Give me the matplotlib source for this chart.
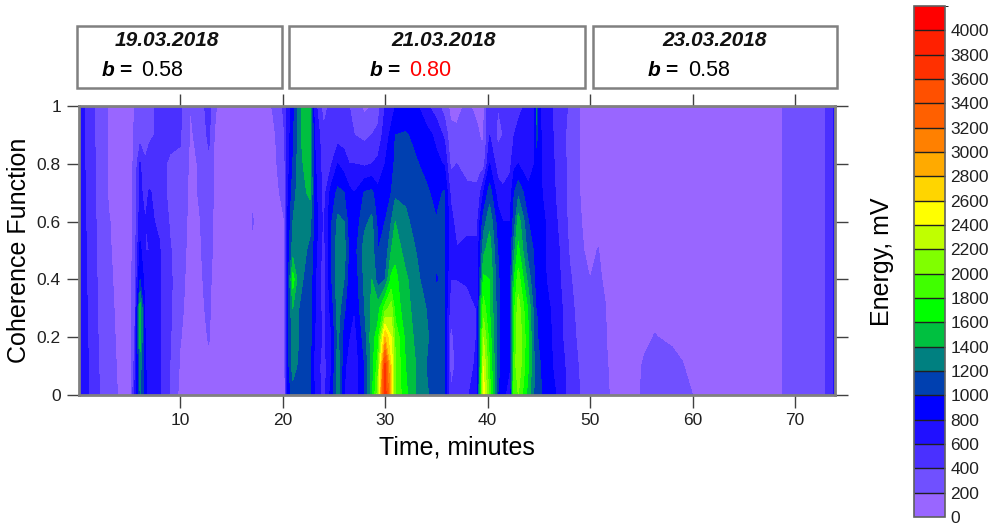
import numpy as np
import matplotlib
matplotlib.use('Agg')
import matplotlib.pyplot as plt
from matplotlib.cm import ScalarMappable
from matplotlib.colors import BoundaryNorm, ListedColormap
from matplotlib.patches import Rectangle

plt.rcParams['font.family'] = ['Liberation Sans', 'DejaVu Sans']

coherence = [0, 0.1, 0.2, 0.3, 0.4, 0.5, 0.6, 0.7, 0.8, 0.9, 1.0]

# energy: time (min) -> values from coherence 0 up to 1
columns = {
    0.1: [750, 750, 750, 750, 750, 750, 750, 750, 750, 750, 750],
    1: [620, 610, 600, 590, 580, 570, 560, 550, 530, 510, 500],
    2: [420, 410, 400, 390, 380, 370, 360, 360, 350, 350, 350],
    3: [280, 270, 260, 250, 230, 220, 210, 190, 180, 180, 180],
    4: [190, 180, 170, 160, 160, 150, 150, 150, 150, 150, 150],
    5.2: [150, 150, 150, 150, 150, 150, 150, 150, 150, 150, 150],
    5.6: [700, 500, 400, 380, 350, 320, 300, 280, 250, 220, 210],
    6.1: [1200, 1300, 1500, 1500, 1000, 850, 700, 650, 620, 300, 300],
    6.6: [850, 820, 780, 750, 700, 600, 600, 520, 420, 320, 320],
    7: [720, 700, 680, 650, 630, 600, 620, 620, 450, 380, 380],
    8: [620, 620, 620, 620, 620, 610, 580, 500, 440, 420, 420],
    9: [380, 400, 420, 440, 440, 420, 380, 350, 380, 440, 440],
    10: [150, 180, 210, 240, 260, 280, 300, 330, 370, 420, 430],
    11: [100, 110, 120, 120, 130, 140, 150, 150, 160, 180, 200],
    12: [100, 120, 150, 170, 180, 190, 200, 220, 220, 250, 350],
    12.8: [100, 170, 210, 230, 250, 280, 300, 340, 350, 450, 450],
    13.5: [100, 100, 100, 100, 100, 120, 120, 120, 120, 120, 220],
    14: [100, 100, 100, 100, 100, 100, 100, 100, 100, 100, 100],
    17: [100, 100, 100, 100, 100, 100, 100, 100, 100, 100, 100],
    17.1: [100, 100, 100, 100, 100, 100, 240, 100, 100, 100, 100],
    17.2: [100, 100, 100, 100, 100, 100, 100, 100, 100, 100, 100],
    19: [100, 100, 100, 100, 100, 100, 100, 100, 100, 120, 210],
    19.9: [100, 100, 100, 100, 100, 100, 150, 230, 300, 350, 380],
    20.2: [100, 100, 100, 120, 120, 150, 200, 300, 350, 400, 450],
    20.5: [850, 900, 900, 900, 880, 850, 800, 760, 700, 680, 650],
    21: [1100, 1300, 1300, 1400, 1700, 1300, 1200, 1100, 1000, 950, 900],
    21.6: [1050, 1150, 1200, 1200, 1250, 1300, 1300, 1300, 1300, 1300, 1300],
    22: [1050, 1100, 1150, 1150, 1200, 1250, 1300, 1350, 1400, 1500, 1500],
    22.7: [1020, 1050, 1050, 1100, 1100, 1150, 1250, 1450, 1450, 1500, 1500],
    23.1: [800, 750, 800, 850, 850, 900, 950, 900, 850, 800, 700],
    24: [500, 500, 550, 500, 480, 500, 550, 500, 500, 450, 300],
    24.8: [900, 800, 800, 900, 1000, 1000, 1000, 900, 600, 450, 480],
    25.4: [1300, 1300, 1250, 1300, 1350, 1350, 1250, 1050, 800, 500, 500],
    26: [800, 850, 900, 1050, 1200, 1300, 1200, 1000, 700, 500, 400],
    26.5: [700, 700, 800, 850, 900, 950, 900, 850, 600, 450, 400],
    27: [650, 650, 700, 800, 850, 900, 850, 800, 600, 400, 300],
    28: [1000, 1000, 1100, 1200, 1250, 1300, 1150, 1020, 560, 350, 150],
    28.7: [1500, 1500, 1500, 1450, 1400, 1300, 1250, 1050, 600, 400, 200],
    29.3: [2100, 1900, 1700, 1500, 1100, 1000, 950, 850, 650, 450, 300],
    30: [3800, 3700, 2800, 1900, 1200, 1050, 1000, 850, 800, 700, 600],
    30.6: [2600, 2600, 2400, 2100, 1650, 1400, 1200, 1000, 900, 850, 700],
    31: [2000, 2000, 1950, 1700, 1650, 1550, 1400, 1150, 1050, 1000, 800],
    32: [1650, 1600, 1550, 1500, 1450, 1300, 1250, 1150, 1100, 1020, 850],
    33: [1400, 1400, 1350, 1300, 1250, 1200, 1120, 1080, 1020, 950, 850],
    34: [1250, 1200, 1250, 1200, 1130, 1100, 1050, 1030, 950, 880, 650],
    35: [1050, 1050, 1050, 1050, 990, 1020, 1010, 950, 850, 750, 480],
    35.8: [1020, 1020, 1020, 1020, 1020, 1020, 1020, 1020, 780, 550, 300],
    36.4: [420, 300, 300, 480, 600, 700, 700, 550, 350, 250, 150],
    37: [450, 450, 520, 520, 600, 620, 480, 420, 400, 250, 120],
    38: [550, 500, 420, 440, 650, 650, 550, 480, 280, 300, 250],
    39: [800, 650, 620, 620, 620, 650, 550, 450, 300, 250, 120],
    39.3: [1600, 1500, 1500, 1450, 1100, 1000, 850, 600, 300, 180, 150],
    39.6: [2500, 2400, 2200, 1900, 1650, 1350, 1100, 800, 300, 170, 150],
    40.2: [1900, 1800, 1700, 1600, 1600, 1500, 1350, 1100, 800, 600, 600],
    41: [1000, 1100, 1100, 1100, 1050, 1000, 900, 700, 500, 350, 400],
    41.5: [850, 850, 850, 850, 850, 850, 800, 650, 450, 400, 450],
    42.2: [700, 800, 850, 900, 900, 850, 800, 700, 550, 400, 500],
    42.6: [2000, 1900, 1800, 1750, 1600, 1350, 1100, 1000, 750, 600, 500],
    43: [2000, 2150, 2200, 2100, 1900, 1650, 1500, 1150, 800, 650, 550],
    44: [1500, 1600, 1600, 1550, 1300, 1100, 1000, 850, 700, 650, 650],
    44.7: [1100, 1100, 1050, 1000, 950, 950, 900, 850, 820, 820, 820],
    44.8: [1100, 1100, 1050, 1000, 950, 950, 900, 850, 820, 1150, 1300],
    44.9: [1050, 1050, 1000, 950, 950, 900, 900, 850, 850, 850, 850],
    46: [900, 850, 850, 820, 750, 750, 750, 720, 700, 680, 650],
    47: [750, 700, 650, 650, 620, 600, 560, 520, 500, 480, 480],
    48: [520, 520, 500, 480, 430, 380, 350, 350, 350, 350, 380],
    49: [400, 380, 340, 300, 280, 220, 210, 200, 200, 200, 200],
    50: [350, 330, 300, 230, 200, 170, 150, 130, 120, 110, 100],
    50.8: [320, 310, 300, 280, 230, 205, 150, 120, 110, 100, 100],
    51.5: [230, 230, 210, 205, 170, 130, 110, 100, 100, 100, 100],
    52: [190, 170, 150, 130, 110, 100, 100, 100, 100, 100, 100],
    54: [120, 110, 100, 100, 100, 100, 100, 100, 100, 100, 100],
    54.9: [200, 190, 150, 110, 100, 100, 100, 100, 100, 100, 100],
    55.3: [250, 220, 170, 120, 100, 100, 100, 100, 100, 100, 100],
    56.3: [300, 260, 205, 170, 100, 100, 100, 100, 100, 100, 100],
    58: [270, 240, 180, 120, 100, 100, 100, 100, 100, 100, 100],
    59: [240, 210, 150, 110, 100, 100, 100, 100, 100, 100, 100],
    60: [200, 150, 120, 100, 100, 100, 100, 100, 100, 100, 100],
    61: [100, 100, 100, 100, 100, 100, 100, 100, 100, 100, 100],
    68.6: [100, 100, 100, 100, 100, 100, 100, 100, 100, 100, 100],
    69: [300, 300, 300, 300, 300, 300, 300, 300, 300, 300, 300],
    72.5: [300, 300, 300, 300, 300, 300, 300, 300, 300, 300, 300],
    73.2: [450, 450, 450, 450, 450, 450, 450, 450, 450, 450, 450],
    74: [650, 650, 650, 650, 650, 650, 650, 650, 650, 650, 650],
}

levels = list(range(0, 4001, 200))
colors = ['#9966ff', '#7050ff', '#4a30ff', '#2010ff', '#0000ff', '#0040b0', '#008080',
          '#00c040', '#00ff00', '#40ff00', '#80ff00', '#c0ff00', '#ffff00', '#ffd500',
          '#ffaa00', '#ff8000', '#ff6000', '#ff5000', '#ff3000', '#ff2000', '#ff0000']

dates = ['19.03.2018', '21.03.2018', '23.03.2018']
b_values = ['0.58', '0.80', '0.58']
b_colors = ['black', 'red', 'black']

W, H = 996, 525


def px_axes(fig, x0, y0, x1, y1):
    return fig.add_axes([x0 / W, 1 - y1 / H, (x1 - x0) / W, (y1 - y0) / H])


fig = plt.figure(figsize=(W / 100, H / 100), dpi=100)
ax = px_axes(fig, 79, 106, 835, 395)

time = np.array(list(columns.keys()))
energy = np.array(list(columns.values())).T
ax.contourf(time, coherence, energy, levels=levels, colors=colors, extend='max',
            antialiased=False)
ax.set_xlim(0.14, 73.9)
ax.set_ylim(0, 1)

ax.set_xticks([10, 20, 30, 40, 50, 60, 70])
ax.set_yticks([0, 0.2, 0.4, 0.6, 0.8, 1])
ax.set_yticklabels(['0', '0.2', '0.4', '0.6', '0.8', '1'])
ax.tick_params(axis='both', direction='out', length=9, width=1, color='#404040',
               top=True, right=True, labelsize=12.5, pad=4, labelcolor='#202020')
for side in ax.spines.values():
    side.set_color('#808080')
    side.set_linewidth(2)
ax.set_xlabel('Time, minutes', fontsize=18, labelpad=5)
fig.text(19 / W, 1 - 250 / H, 'Coherence Function', fontsize=18, rotation=90,
         ha='center', va='center')

# date boxes above the plot
boxes = [(77, 282), (289, 585), (593, 837)]
date_x = [167, 444, 715]
b_x = [108, 376, 654]
val_x = [162, 430, 709]
for i in range(3):
    x0, x1 = boxes[i]
    fig.add_artist(Rectangle((x0 / W, 1 - 88 / H), (x1 - x0) / W, 62 / H, fill=False,
                             edgecolor='#808080', linewidth=1.8,
                             transform=fig.transFigure))
    fig.text(date_x[i] / W, 1 - 41 / H, dates[i], fontsize=15, style='italic',
             weight='bold', ha='center', va='center', color='#111111')
    fig.text(b_x[i] / W, 1 - 71 / H, 'b', fontsize=15, style='italic', weight='bold',
             ha='center', va='center')
    fig.text((b_x[i] + 17) / W, 1 - 71 / H, '=', fontsize=15, weight='bold',
             ha='center', va='center')
    fig.text(val_x[i] / W, 1 - 71 / H, b_values[i], fontsize=15.5, color=b_colors[i],
             ha='center', va='center')

# colour scale
cax = px_axes(fig, 914, 6, 945, 517)
sm = ScalarMappable(norm=BoundaryNorm(levels + [4200], len(colors)),
                    cmap=ListedColormap(colors))
cbar = fig.colorbar(sm, cax=cax, drawedges=True, ticks=levels, spacing='uniform')
cbar.dividers.set_color('#202020')
cbar.dividers.set_linewidth(1)
cbar.outline.set_edgecolor('#606060')
cbar.outline.set_linewidth(1.2)
cax.tick_params(length=0, labelsize=12.5, pad=4, labelcolor='#202020')
fig.text(882 / W, 1 - 262 / H, 'Energy, mV', fontsize=18, rotation=90,
         ha='center', va='center')

fig.savefig('out.png', dpi=100)
